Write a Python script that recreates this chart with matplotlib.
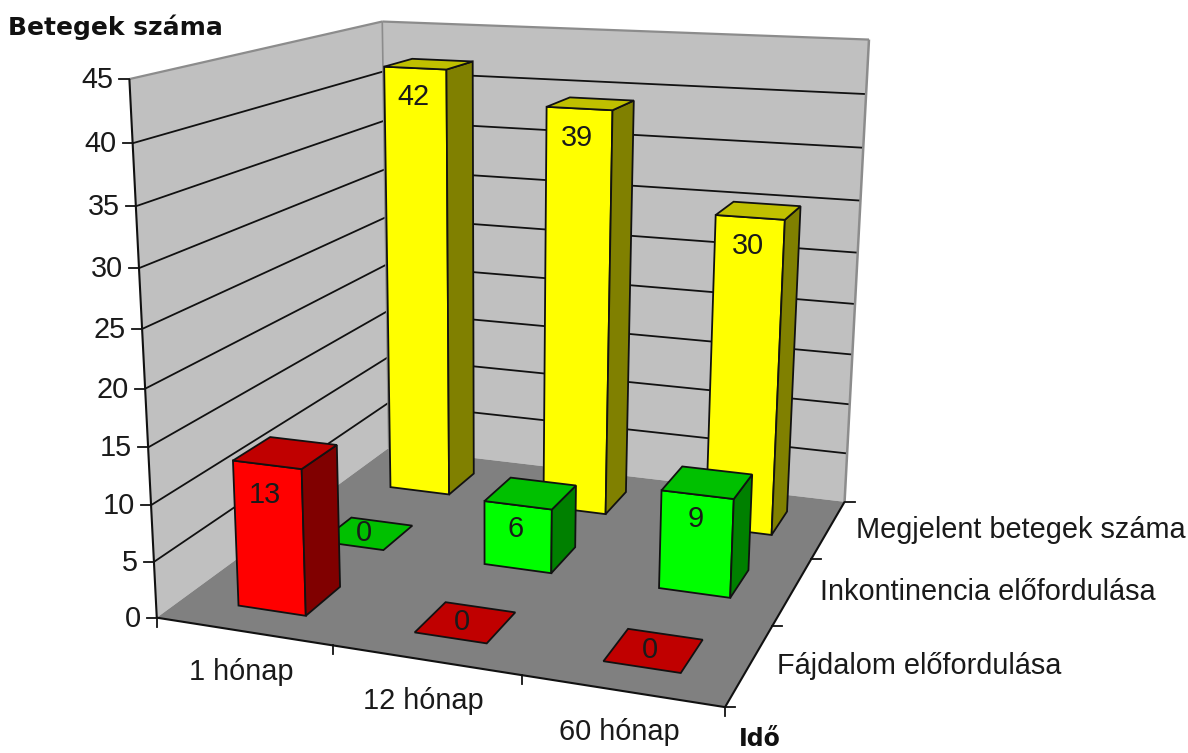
import numpy as np
import matplotlib
matplotlib.use("Agg")
import matplotlib.pyplot as plt
from matplotlib.patches import Polygon

categories = ["1 hónap", "12 hónap", "60 hónap"]
series_names = ["Fájdalom előfordulása", "Inkontinencia előfordulása", "Megjelent betegek száma"]
fajdalom = [13, 0, 0]
inkontinencia = [0, 6, 9]
megjelent = [42, 39, 30]
z_ticks = [0, 5, 10, 15, 20, 25, 30, 35, 40, 45]
z_title = "Betegek száma"
x_title = "Idő"

series_values = [fajdalom, inkontinencia, megjelent]
series_colors = [("#FF0000", "#C00000", "#800000"),
                 ("#00FF00", "#00C000", "#008000"),
                 ("#FFFF00", "#C0C000", "#808000")]
label_offsets = [30, 24, 29]

# camera calibration: (category axis 0-1, depth axis 0-1, value) -> pixel
calib = [((0, 0, 0), (161, 617)), ((0, 1, 0), (385, 447)), ((1, 1, 0), (845, 503)),
         ((1, 0, 0), (722, 706)), ((0, 0, 45), (127, 78)), ((0, 1, 45), (385, 22)),
         ((1, 1, 45), (868, 40)), ((1 / 3, 0, 0), (333, 648)), ((2 / 3, 0, 0), (520, 677)),
         ((1, 1 / 3, 0), (775, 624)), ((1, 2 / 3, 0), (813, 558))]
rows = []
for (x, y, z), (u, v) in calib:
    z = z / 45
    rows.append([x, y, z, 1, 0, 0, 0, 0, -u * x, -u * y, -u * z, -u])
    rows.append([0, 0, 0, 0, x, y, z, 1, -v * x, -v * y, -v * z, -v])
P = np.linalg.svd(np.array(rows, float))[2][-1].reshape(3, 4)


def proj(x, y, z):
    h = P @ np.array([x, y, z / 45, 1.0])
    return h[0] / h[2], h[1] / h[2]


fig = plt.figure(figsize=(11.88, 7.53), dpi=100)
ax = fig.add_axes([0, 0, 1, 1])
ax.set_xlim(0, 1188)
ax.set_ylim(753, 0)
ax.axis("off")
plt.rcParams["font.family"] = ["Liberation Sans", "DejaVu Sans"]
FS = 20.8
TFS = 18
TXT = "#1a1a1a"
LW = 1.3
order = [1]


def nextz():
    order[0] += 1
    return order[0]


def poly(pts, fc, ec="none", lw=0):
    ax.add_patch(Polygon([proj(*p) for p in pts], closed=True, fc=fc, ec=ec, lw=lw,
                         joinstyle="miter", zorder=nextz()))


def line(a, b, color="#111111", lw=LW):
    pa, pb = proj(*a), proj(*b)
    ax.plot([pa[0], pb[0]], [pa[1], pb[1]], color=color, lw=lw, solid_capstyle="butt", zorder=nextz())


zmax = z_ticks[-1]
# walls and floor
poly([(0, 0, 0), (0, 1, 0), (0, 1, zmax), (0, 0, zmax)], "#C0C0C0")
poly([(0, 1, 0), (1, 1, 0), (1, 1, zmax), (0, 1, zmax)], "#C0C0C0")
poly([(0, 0, 0), (1, 0, 0), (1, 1, 0), (0, 1, 0)], "#808080")
for t in z_ticks[1:-1]:
    line((0, 0, t), (0, 1, t))
    line((0, 1, t), (1, 1, t))
G = "#8c8c8c"
line((0, 0, zmax), (0, 1, zmax), G, 1.6)
line((0, 1, zmax), (1, 1, zmax), G, 1.6)
line((0, 1, 0), (0, 1, zmax), G, 1.2)
line((1, 1, 0), (1, 1, zmax), G, 1.8)

# axes
line((0, 0, 0), (0, 0, zmax), lw=1.5)
line((0, 0, 0), (1, 0, 0), lw=1.5)
line((1, 0, 0), (1, 1, 0), lw=1.5)
for t in z_ticks:
    u, v = proj(0, 0, t)
    ax.plot([u - 10, u], [v, v], color="#111111", lw=LW, zorder=nextz())
    ax.text(u - 16, v + 1, str(t), ha="right", va="center", fontsize=FS, color=TXT, zorder=500)
nc, ns = len(categories), len(series_names)
for i in range(nc + 1):
    u, v = proj(i / nc, 0, 0)
    ax.plot([u, u], [v, v + 9], color="#111111", lw=LW, zorder=nextz())
for j in range(ns + 1):
    u, v = proj(1, j / ns, 0)
    ax.plot([u, u + 10], [v, v], color="#111111", lw=LW, zorder=nextz())
for i, c in enumerate(categories):
    u, v = proj((i + .5) / nc, 0, 0)
    ax.text(u - 2, v + 41, c, ha="center", va="center", fontsize=FS, color=TXT, zorder=500)
for j, s in enumerate(series_names):
    u, v = proj(1, (j + .5) / ns, 0)
    ax.text(u + 27, v + 1, s, ha="left", va="center", fontsize=FS, color=TXT, zorder=500)
ax.text(8, 27, z_title, ha="left", va="center", fontsize=TFS, fontweight="bold",
        family="DejaVu Sans", color="#111111", zorder=500)
ax.text(739, 739, x_title, ha="left", va="center", fontsize=TFS - 1, fontweight="bold",
        family="DejaVu Sans", color="#111111", zorder=500)

# bars, back row first
fx, fy, cx = 0.39, 0.42, 0.515
for j in reversed(range(ns)):
    front, top_c, side = series_colors[j]
    for i in range(nc):
        val = series_values[j][i]
        x0 = (i + cx - fx / 2) / nc
        x1 = (i + cx + fx / 2) / nc
        y0 = (j + .5 - fy / 2) / ns
        y1 = (j + .5 + fy / 2) / ns
        ek = dict(ec="#111111", lw=LW)
        if val > 0:
            poly([(x0, y0, 0), (x1, y0, 0), (x1, y0, val), (x0, y0, val)], front, **ek)
            poly([(x1, y0, 0), (x1, y1, 0), (x1, y1, val), (x1, y0, val)], side, **ek)
        poly([(x0, y0, val), (x1, y0, val), (x1, y1, val), (x0, y1, val)], top_c, **ek)
        if val > 0:
            u, v = proj((x0 + x1) / 2, y0, val)
            u -= 2
            v += label_offsets[j]
        else:
            u, v = proj(x0 + 0.45 * (x1 - x0), (y0 + y1) / 2, 0)
        ax.text(u, v, str(val), ha="center", va="center", fontsize=FS, color=TXT, zorder=500)

fig.savefig("out.png", dpi=100)
